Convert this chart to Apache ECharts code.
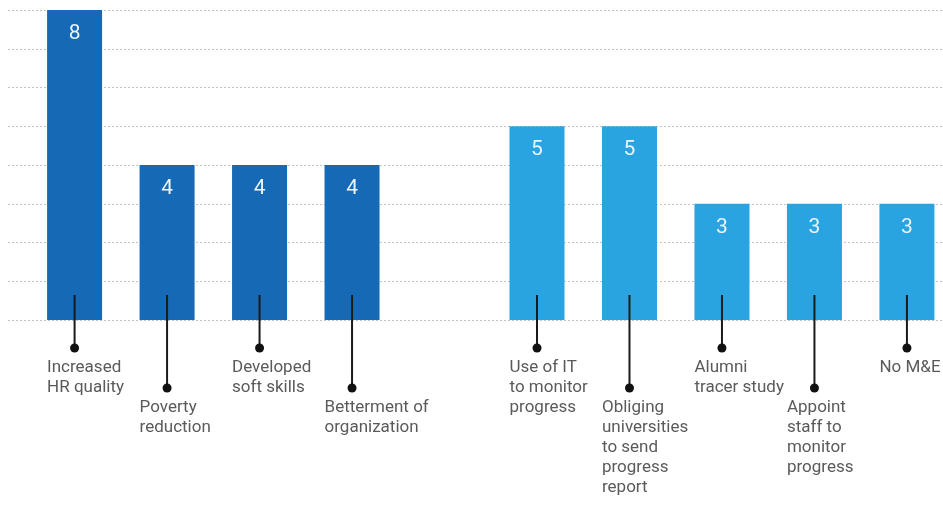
<!DOCTYPE html>
<html>
<head>
<meta charset="utf-8">
<script src="https://cdn.jsdelivr.net/npm/echarts@6/dist/echarts.min.js"></script>
<style>
  html, body { margin: 0; padding: 0; background: #fff; }
  #chart { width: 943px; height: 505px; }
</style>
</head>
<body>
<div id="chart"></div>
<script>
  // one slot per category, the empty one is the gap between the two groups
  var categories = ['Increased\nHR quality', 'Poverty\nreduction', 'Developed\nsoft skills', 'Betterment of\norganization',
    '', 'Use of IT\nto monitor\nprogress', 'Obliging\nuniversities\nto send\nprogress\nreport', 'Alumni\ntracer study',
    'Appoint\nstaff to\nmonitor\nprogress', 'No M&E'];
  var values = [8, 4, 4, 4, null, 5, 5, 3, 3, 3];
  var group = [0, 0, 0, 0, null, 1, 1, 1, 1, 1];
  var leaderLevel = [0, 1, 0, 1, null, 0, 1, 0, 1, 0];
  var yTicks = [0, 1, 2, 3, 4, 5, 6, 7, 8];

  var colors = ['#166ab5', '#29a4e0'];

  var barData = [];
  var leaderData = [];
  for (var i = 0; i < categories.length; i++) {
    if (values[i] == null) continue;
    barData.push({
      value: [i, values[i]],
      itemStyle: { color: colors[group[i]] }
    });
    leaderData.push([i, leaderLevel[i], categories[i]]);
  }

  var chart = echarts.init(document.getElementById('chart'));

  chart.setOption({
    animation: false,
    grid: { left: 8, right: 0, top: 10, bottom: 185 },
    xAxis: {
      type: 'value',
      min: -0.72,
      max: 9.39,
      show: false
    },
    yAxis: {
      type: 'value',
      min: yTicks[0],
      max: yTicks[yTicks.length - 1],
      interval: 1,
      axisLine: { show: false },
      axisTick: { show: false },
      axisLabel: { show: false },
      splitLine: { lineStyle: { type: [2, 2], color: '#c4c4c4', width: 1 } }
    },
    series: [{
      type: 'bar',
      barWidth: 55,
      data: barData,
      label: {
        show: true,
        position: 'insideTop',
        distance: 13,
        color: '#eaf4fc',
        fontSize: 21,
        fontFamily: 'Roboto',
        formatter: function (p) { return p.value[1]; }
      },
      z: 2
    }, {
      type: 'custom',
      data: leaderData,
      z: 5,
      clip: false,
      renderItem: function (params, api) {
        var base = api.coord([api.value(0), 0]);
        var drop = api.value(1) ? 68 : 28;
        var dotY = base[1] + drop;
        var text = leaderData[params.dataIndex][2];
        return {
          type: 'group',
          children: [{
            type: 'line',
            shape: { x1: base[0], y1: base[1] - 25, x2: base[0], y2: dotY },
            style: { stroke: '#1a1a1a', lineWidth: 2 }
          }, {
            type: 'circle',
            shape: { cx: base[0], cy: dotY, r: 4.5 },
            style: { fill: '#111' }
          }, {
            type: 'text',
            x: base[0] - 27.5,
            y: dotY + 10,
            style: {
              text: text,
              fill: '#5a5a5a',
              font: '17px Roboto',
              lineHeight: 20,
              align: 'left',
              verticalAlign: 'top'
            }
          }]
        };
      }
    }]
  });
</script>
</body>
</html>
